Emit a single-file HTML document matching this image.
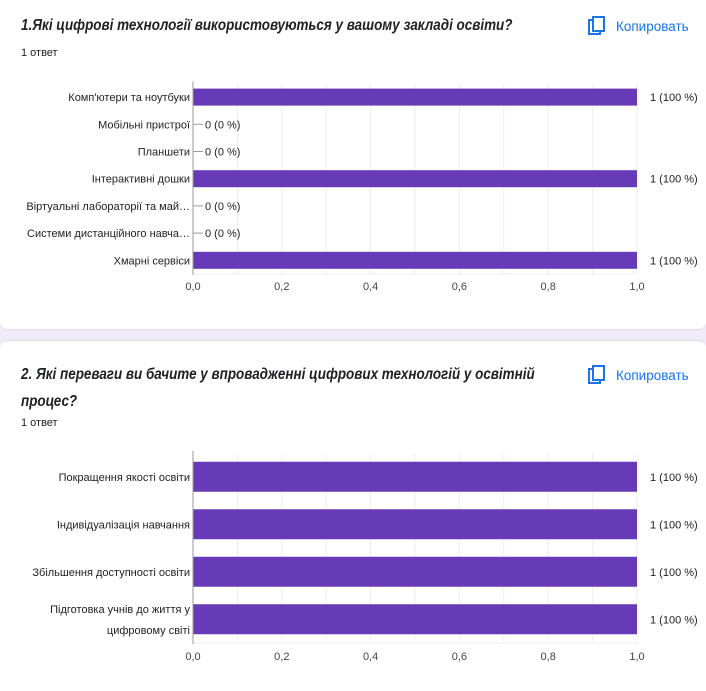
<!DOCTYPE html>
<html><head><meta charset="utf-8">
<style>
body{margin:0;width:706px;height:690px;overflow:hidden;background:#f0ebf8;font-family:"Liberation Sans","DejaVu Sans",sans-serif;}
.card{position:absolute;left:0;width:706px;background:#fff;}
.title{position:absolute;left:21px;font-size:16px;font-style:italic;font-weight:bold;color:#202124;line-height:27px;transform:scaleX(0.84);transform-origin:left top;white-space:nowrap;}
.sub{position:absolute;left:21px;font-size:11px;color:#202124;}
.copy{position:absolute;left:588px;font-size:13.5px;color:#1a73e8;}
svg text{font-family:"Liberation Sans","DejaVu Sans",sans-serif;}
</style></head><body>
<div class="card" style="top:0;height:329px;border-radius:0 0 8px 8px;border-bottom:1px solid #dadce0;">
 <div class="title" style="top:12px;">1.Які цифрові технології використовуються у вашому закладі освіти?</div>
 <div class="sub" style="top:47px;">1 ответ</div>
 <div class="copy" style="top:16px;"><svg width="18" height="20" style="vertical-align:-5px;margin-right:10px"><rect x="1" y="4" width="11" height="14" fill="none" stroke="#1a73e8" stroke-width="2"/><rect x="5" y="1" width="11" height="14" fill="#fff" stroke="#1a73e8" stroke-width="2"/></svg>Копировать</div>
</div>
<div class="card" style="top:340px;height:350px;border-radius:8px 8px 0 0;border-top:1px solid #dadce0;">
 <div class="title" style="top:20px;">2. Які переваги ви бачите у впровадженні цифрових технологій у освітній<br>процес?</div>
 <div class="sub" style="top:76px;">1 ответ</div>
 <div class="copy" style="top:24px;"><svg width="18" height="20" style="vertical-align:-5px;margin-right:10px"><rect x="1" y="4" width="11" height="14" fill="none" stroke="#1a73e8" stroke-width="2"/><rect x="5" y="1" width="11" height="14" fill="#fff" stroke="#1a73e8" stroke-width="2"/></svg>Копировать</div>
</div>
<svg id="chart" width="706" height="690" style="position:absolute;left:0;top:0"></svg>
<script>
const cats1 = ["Комп'ютери та ноутбуки","Мобільні пристрої","Планшети","Інтерактивні дошки","Віртуальні лабораторії та май…","Системи дистанційного навча…","Хмарні сервіси"];
const vals1 = [1,0,0,1,0,0,1];
const labels1 = ["1 (100 %)","0 (0 %)","0 (0 %)","1 (100 %)","0 (0 %)","0 (0 %)","1 (100 %)"];
const cats2 = [["Покращення якості освіти"],["Індивідуалізація навчання"],["Збільшення доступності освіти"],["Підготовка учнів до життя у","цифровому світі"]];
const vals2 = [1,1,1,1];
const labels2 = ["1 (100 %)","1 (100 %)","1 (100 %)","1 (100 %)"];
const ticks = [0,0.2,0.4,0.6,0.8,1.0];
const tickLabels = ["0,0","0,2","0,4","0,6","0,8","1,0"];
const NS="http://www.w3.org/2000/svg";
const svg=document.getElementById('chart');
function mk(tag,attrs,parent){const e=document.createElementNS(NS,tag);for(const k in attrs)e.setAttribute(k,attrs[k]);(parent||svg).appendChild(e);return e;}
function drawChart(id,cats,vals,labels,top,pitch,barH,tickY){
  const x0=193,x1=637;
  const xs=v=>x0+(x1-x0)*v;
  const bottom=top+pitch*cats.length;
  const g=mk('g',{});
  
  
  for(let i=1;i<=10;i++){const gl=mk('line',{x1:xs(i/10),x2:xs(i/10),y1:top,y2:bottom,stroke:'#eeeeee','stroke-width':1},g);
    
    }
  mk('line',{x1:x0,x2:x1,y1:bottom,y2:bottom,stroke:'#eeeeee'},g);
  cats.forEach((c,i)=>{
    const cy=top+pitch*(i+0.5);
    const lines=Array.isArray(c)?c:[c];
    lines.forEach((ln,j)=>{const t=mk('text',{x:x0-3,y:cy+4+(j-(lines.length-1)/2)*21,'text-anchor':'end','font-size':11,fill:'#222'},g);t.textContent=ln;
      
      });
    if(vals[i]>0){
      const r=mk('rect',{x:x0,y:cy-barH/2,width:xs(vals[i])-x0,height:barH,fill:'#673ab7'},g);
      
      
      const t=mk('text',{x:xs(vals[i])+13,y:cy+4,'font-size':11,fill:'#222'},g);t.textContent=labels[i];
      
      
    } else {
      const l=mk('line',{x1:x0,x2:x0+10,y1:cy,y2:cy,stroke:'#999'},g);
      
      
      const t=mk('text',{x:xs(vals[i])+12,y:cy+4,'font-size':11,fill:'#222'},g);t.textContent=labels[i];
      
      
    }
  });
  mk('line',{x1:x0,x2:x0,y1:top-2,y2:bottom+1,stroke:'#999','stroke-width':1},g);
  ticks.forEach((tv,i)=>{const t=mk('text',{x:xs(tv),y:tickY,'text-anchor':'middle','font-size':11,fill:'#444'},g);t.textContent=tickLabels[i];
    
    });
}
drawChart('chart-1',cats1,vals1,labels1,83.5,27.2,17,290);
drawChart('chart-2',cats2,vals2,labels2,453,47.5,30,660);
</script>
</body></html>
